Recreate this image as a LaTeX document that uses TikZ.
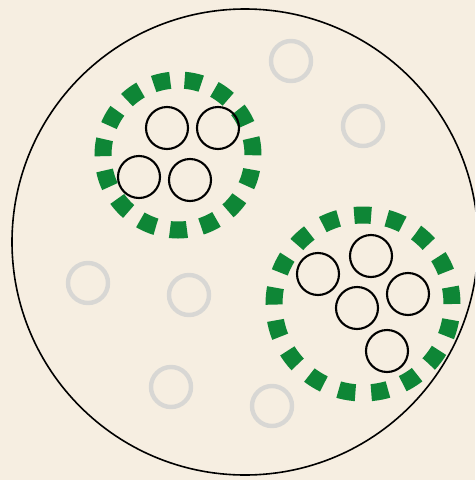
\documentclass[tikz,border=0pt]{standalone}
\usepackage{tikz}
\usetikzlibrary{shapes,positioning}
\definecolor{wood}{RGB}{246,238,225}
\definecolor{leaf}{RGB}{14,134,54}
\definecolor{ghost}{RGB}{216,215,212}

\begin{document}
\begin{tikzpicture}[x=1pt, y=-1pt]
    \tikzstyle{plate} = [draw, circle, minimum size=466pt, inner sep=0pt, line width=1.6pt]
    \tikzstyle{ring} = [draw, circle, minimum size=42pt, inner sep=0pt, line width=2.1pt]
    \tikzstyle{faded} = [draw=ghost, circle, minimum size=40pt, inner sep=0pt, line width=4.4pt]
    \tikzstyle{cluster} = [draw=leaf, circle, inner sep=0pt, line width=17pt]

    \fill [wood] (0,0) rectangle (475,480);
    \clip (0,0) rectangle (475,480);

    \node [plate] (dish) at (245,242) {};

    % first group
    \node [cluster, minimum size=150pt, dash pattern=on 17pt off 14.4pt] (g1) at (178,155) {};
    \node [ring] (a1) at (167,128) {};
    \node [ring] (a2) at (218,128) {};
    \node [ring] (a3) at (139,177) {};
    \node [ring] (a4) at (190,180) {};

    % second group
    \node [cluster, minimum size=178pt, dash pattern=on 17pt off 15.9pt] (g2) at (363,304) {};
    \node [ring] (b1) at (371,256) {};
    \node [ring] (b2) at (318,274) {};
    \node [ring] (b3) at (408,294) {};
    \node [ring] (b4) at (357,308) {};
    \node [ring] (b5) at (387,351) {};

    % loose ones
    \node [faded] (c1) at (291,61) {};
    \node [faded] (c2) at (363,126) {};
    \node [faded] (c3) at (88,283) {};
    \node [faded] (c4) at (189,295) {};
    \node [faded] (c5) at (171,387) {};
    \node [faded] (c6) at (272,406) {};
\end{tikzpicture}
\end{document}
